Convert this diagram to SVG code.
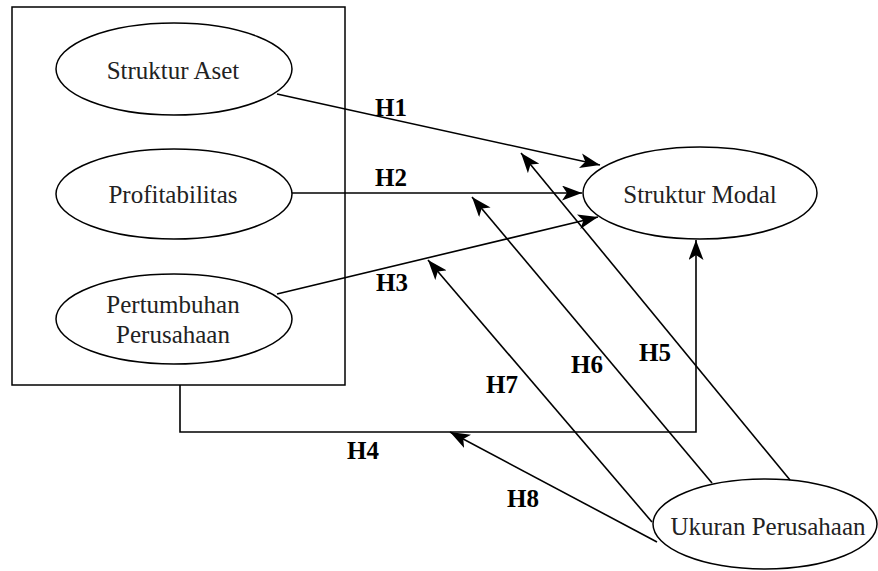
<svg xmlns="http://www.w3.org/2000/svg" width="878" height="571" viewBox="0 0 878 571">
<style>
.shape{fill:#fff;stroke:#000;stroke-width:1.5}
.node{font-family:"Liberation Serif","Times New Roman",serif;font-size:25px;fill:#222;text-anchor:middle}
.lbl{font-family:"Liberation Serif","Times New Roman",serif;font-size:25px;font-weight:bold;fill:#000;text-anchor:middle}
.conn{fill:none;stroke:#000;stroke-width:1.6}
</style>
<defs>
<marker id="arr" viewBox="0 0 20 15" refX="20" refY="7.5" markerWidth="20" markerHeight="15" markerUnits="userSpaceOnUse" orient="auto">
<path d="M0,0 L20,7.5 L0,15 L5,7.5 Z" fill="#000"/>
</marker>
</defs>
<rect width="878" height="571" fill="#fff"/>
<g id="box"><rect class="shape" x="12" y="7" width="333" height="378" fill="none"/></g>
<g id="struktur-aset"><ellipse class="shape" cx="174" cy="69" rx="118" ry="46"/><text class="node" x="173" y="79">Struktur Aset</text></g>
<g id="profitabilitas"><ellipse class="shape" cx="174" cy="194" rx="118" ry="45"/><text class="node" x="173" y="203">Profitabilitas</text></g>
<g id="pertumbuhan"><ellipse class="shape" cx="174" cy="319" rx="118" ry="45"/><text class="node" x="173" y="313">Pertumbuhan</text><text class="node" x="173" y="343">Perusahaan</text></g>
<g id="struktur-modal"><ellipse class="shape" cx="700" cy="193" rx="117" ry="46"/><text class="node" x="700" y="203">Struktur Modal</text></g>
<g id="ukuran"><ellipse class="shape" cx="765" cy="524" rx="112" ry="45"/><text class="node" x="768" y="535">Ukuran Perusahaan</text></g>
<g id="connectors">
<path class="conn" d="M277,94 L600,165" marker-end="url(#arr)"/>
<path class="conn" d="M292,193 L582,193" stroke="#444" stroke-width="2" marker-end="url(#arr)"/>
<path class="conn" d="M277,294 L598,217" marker-end="url(#arr)"/>
<path class="conn" d="M180,385 V432 H696 V240" marker-end="url(#arr)"/>
<path class="conn" d="M790,480 L521,153" marker-end="url(#arr)"/>
<path class="conn" d="M712,483 L472,197" marker-end="url(#arr)"/>
<path class="conn" d="M652,522 L428,260" marker-end="url(#arr)"/>
<path class="conn" d="M657,542 L450,432" marker-end="url(#arr)"/>
</g>
<g id="labels">
<text class="lbl" x="391" y="116">H1</text>
<text class="lbl" x="391" y="186">H2</text>
<text class="lbl" x="392" y="291">H3</text>
<text class="lbl" x="363" y="459">H4</text>
<text class="lbl" x="655" y="361">H5</text>
<text class="lbl" x="587" y="373">H6</text>
<text class="lbl" x="502" y="393">H7</text>
<text class="lbl" x="523" y="507">H8</text>
</g>
</svg>
